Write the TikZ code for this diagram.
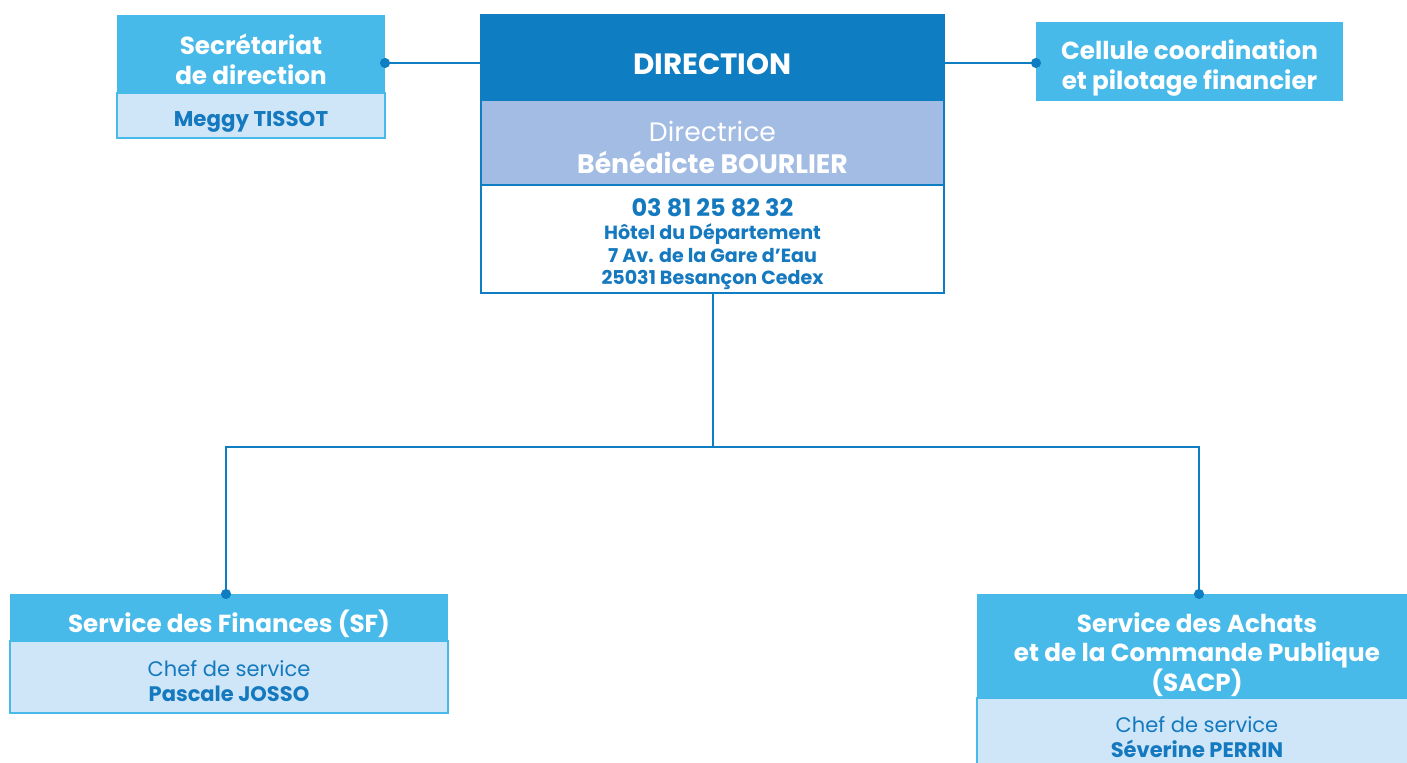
\documentclass[tikz,border=0pt]{standalone}
\usepackage{fontspec}
\setmainfont{Poppins}
\usetikzlibrary{positioning,arrows.meta}
\definecolor{dirblue}{HTML}{0E7DC2}
\definecolor{skyblue}{HTML}{48BAEA}
\definecolor{lavblue}{HTML}{A3BCE3}
\definecolor{paleblue}{HTML}{CFE6F8}
\definecolor{inkblue}{HTML}{1479BF}

\begin{document}
\begin{tikzpicture}[x=0.75pt,y=-0.75pt,
  every node/.style={inner sep=0pt, outer sep=0pt, align=center},
  head/.style={fill=skyblue},
  body/.style={fill=paleblue, draw=skyblue, line width=1.5pt},
  dirpart/.style={draw=dirblue, line width=1.5pt, minimum width=347.25pt},
  headtxt/.style={text=white, font=\bfseries\fontsize{18.5}{22.25}\selectfont},
  bodytxt/.style={text=inkblue, font=\fontsize{15.75}{18.75}\selectfont},
  link/.style={draw=dirblue, line width=1.5pt},
  dot/.style={shorten >=-3.75pt}
]
\useasboundingbox (0,0) rectangle (1407,763);

% secretariat
\node[head, minimum width=201pt, minimum height=58.5pt, anchor=north west] (sectop) at (117,15) {};
\node[body, minimum width=201pt, minimum height=33.75pt, below=0pt of sectop] (secname) {};
\node[headtxt, yshift=-4.1pt] (sectxt) at (sectop) {Secrétariat\\de direction};
\node[bodytxt, font=\bfseries\fontsize{16}{18}\selectfont, yshift=-4.5pt] (secnametxt) at (secname) {Meggy TISSOT};

% direction
\node[dirpart, fill=dirblue, minimum height=63.75pt, anchor=north west] (dirtop) at (481,15) {};
\node[dirpart, fill=lavblue, minimum height=63.75pt, below=0pt of dirtop] (dirmid) {};
\node[dirpart, fill=white, minimum height=81pt, below=0pt of dirmid] (dirbot) {};
\node[headtxt, font=\bfseries\fontsize{22}{24}\selectfont, yshift=-5.25pt] (dirtxt) at (dirtop) {DIRECTION};
\node[text=white, font=\fontsize{20}{24}\selectfont, yshift=-3.4pt] (dirmidtxt) at (dirmid) {Directrice\\\textbf{Bénédicte BOURLIER}};
\node[bodytxt, font=\bfseries\fontsize{14.3}{17}\selectfont, yshift=-4.1pt] (dirbottxt) at (dirbot) {{\fontsize{18}{18}\selectfont 03 81 25 82 32}\\Hôtel du Département\\7 Av. de la Gare d’Eau\\25031 Besançon Cedex};

% cellule
\node[head, minimum width=230.25pt, minimum height=59.25pt, anchor=north west] (cell) at (1036,22) {};
\node[headtxt, font=\bfseries\fontsize{18.5}{22.5}\selectfont, yshift=-5.25pt] (celltxt) at (cell) {Cellule coordination\\et pilotage financier};

% services
\node[head, minimum width=328.5pt, minimum height=35.25pt, anchor=north west] (sftop) at (10,594) {};
\node[body, minimum width=328.5pt, minimum height=54pt, below=0pt of sftop] (sfbody) {};
\node[headtxt, yshift=-4.5pt] (sftxt) at (sftop) {Service des Finances (SF)};
\node[bodytxt, yshift=-3pt] (sfbodytxt) at (sfbody) {Chef de service\\\textbf{Pascale JOSSO}};

\node[head, minimum width=330pt, minimum height=78pt, anchor=north west] (sacptop) at (977,594) {};
\node[body, minimum width=330pt, minimum height=58.5pt, below=0pt of sacptop] (sacpbody) {};
\node[headtxt, yshift=-6.4pt] (sacptxt) at (sacptop) {Service des Achats\\et de la Commande Publique\\(SACP)};
\node[bodytxt] (sacpbodytxt) at (sacpbody) {Chef de service\\\textbf{Séverine PERRIN}};

% staff links
\coordinate (secdot) at ([yshift=-6.75pt]sectop.east);
\draw[link, dot, -{Circle[length=7.5pt]}] (dirtop.west |- secdot) -- (secdot);
\draw[link, dot, -{Circle[length=7.5pt]}] (dirtop.east |- secdot) -- (cell.west |- secdot);

% services tree
\coordinate (sfdot) at ([xshift=-2.25pt]sftop.north);
\coordinate (sacpdot) at ([xshift=1.5pt]sacptop.north);
\draw[link] (dirbot.south) -- ++(0,154) coordinate (split);
\draw[link, dot, shorten <=-3.75pt, {Circle[length=7.5pt]}-{Circle[length=7.5pt]}] (sfdot) |- (split) -| (sacpdot);

\end{tikzpicture}
\end{document}
